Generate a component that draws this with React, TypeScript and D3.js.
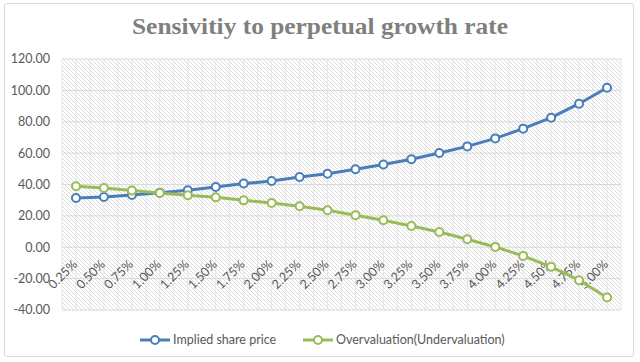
import React, { useEffect } from 'react';
import * as d3 from 'd3';

const rates = ['0.25%', '0.50%', '0.75%', '1.00%', '1.25%', '1.50%', '1.75%', '2.00%', '2.25%', '2.50%',
  '2.75%', '3.00%', '3.25%', '3.50%', '3.75%', '4.00%', '4.25%', '4.50%', '4.75%', '5.00%'];
const impliedPrice = [31.4, 32.0, 33.3, 34.8, 36.3, 38.4, 40.6, 42.2, 44.8, 46.9,
  49.7, 52.7, 56.1, 60.1, 64.3, 69.4, 75.6, 82.6, 91.5, 101.7];
const overUnder = [38.9, 37.8, 36.1, 34.6, 33.1, 31.8, 29.9, 28.2, 26.1, 23.6,
  20.4, 17.2, 13.6, 9.7, 5.1, 0.2, -5.5, -12.5, -21.0, -32.0];
const yTicks = [-40, -20, 0, 20, 40, 60, 80, 100, 120];

const series = [
  { name: 'Implied share price', values: impliedPrice, color: '#4A7EBB' },
  { name: 'Overvaluation(Undervaluation)', values: overUnder, color: '#9BBB59' },
];

const W = 640;
const H = 362;
const margin = { top: 59, right: 19, bottom: 52, left: 62 };
const font = 'Lato, "Open Sans", sans-serif';

export default function App() {
  useEffect(() => {
    document.body.style.margin = '0';
  }, []);

  const x = d3.scaleBand<string>().domain(rates).range([margin.left, W - margin.right]);
  const y = d3.scaleLinear().domain([-40, 120]).range([H - margin.bottom, margin.top]);
  const cx = (d: string) => x(d)! + x.bandwidth() / 2;

  // half-band vertical grid
  const vLines: number[] = [];
  rates.forEach(r => {
    vLines.push(x(r)!);
    vLines.push(cx(r));
  });
  vLines.push(x.range()[1]);

  const line = d3.line<number>()
    .x((_, i) => cx(rates[i]))
    .y(d => y(d));

  const [x0, x1] = x.range();
  const legendItems = [
    { ...series[0], lx: 140, tx: 173 },
    { ...series[1], lx: 303, tx: 336 },
  ];

  return (
    <svg width={W} height={H} style={{ display: 'block' }}>
      <defs>
        <pattern id="hatch" width="4" height="4" patternUnits="userSpaceOnUse">
          <path d="M-1,-1 L5,5 M3,-1 L5,1 M-1,3 L1,5" stroke="#dcdcdc" strokeWidth="1" />
        </pattern>
      </defs>
      <rect x={0} y={0} width={W} height={H} fill="#fff" />
      <rect x={4.5} y={3.5} width={629} height={353} fill="#fff" stroke="#d9d9d9" rx={2} />

      <text x={W / 2} y={34} textAnchor="middle" fontFamily='"Liberation Serif", "DejaVu Serif", serif'
        fontWeight="bold" fontSize={24} fill="#7f7f7f" textLength={376} lengthAdjust="spacingAndGlyphs">
        Sensivitiy to perpetual growth rate
      </text>

      <rect x={x0} y={y(120)} width={x1 - x0} height={y(-40) - y(120)} fill="url(#hatch)" />
      {vLines.map((v, i) => (
        <line key={'v' + i} x1={v} x2={v} y1={y(120)} y2={y(-40)} stroke="#e6e6e6" strokeWidth={1} />
      ))}
      {yTicks.map(t => (
        <g key={t}>
          <line x1={x0} x2={x1} y1={y(t)} y2={y(t)} stroke="#d9d9d9" strokeWidth={1} />
          <text x={50} y={y(t)} dy="0.35em" textAnchor="end" fontFamily={font} fontSize={12.5} fill="#595959">
            {t.toFixed(2)}
          </text>
        </g>
      ))}

      {rates.map(r => (
        <text key={r} transform={`translate(${cx(r) + 2},${y(0) + 18}) rotate(-45)`} textAnchor="end"
          fontFamily={font} fontSize={12.5} fill="#595959">
          {r}
        </text>
      ))}

      {series.map(s => (
        <g key={s.name}>
          <path d={line(s.values)!} fill="none" stroke={s.color} strokeWidth={3} strokeLinejoin="round" />
          {s.values.map((v, i) => (
            <circle key={i} cx={cx(rates[i])} cy={y(v)} r={4} fill="#fff" stroke={s.color} strokeWidth={2} />
          ))}
        </g>
      ))}

      {legendItems.map(l => (
        <g key={l.name}>
          <line x1={l.lx} x2={l.lx + 30} y1={340} y2={340} stroke={l.color} strokeWidth={3} />
          <circle cx={l.lx + 15} cy={340} r={4} fill="#fff" stroke={l.color} strokeWidth={2} />
          <text x={l.tx} y={340} dy="0.35em" fontFamily={font} fontSize={12.5} fill="#595959">{l.name}</text>
        </g>
      ))}
    </svg>
  );
}
